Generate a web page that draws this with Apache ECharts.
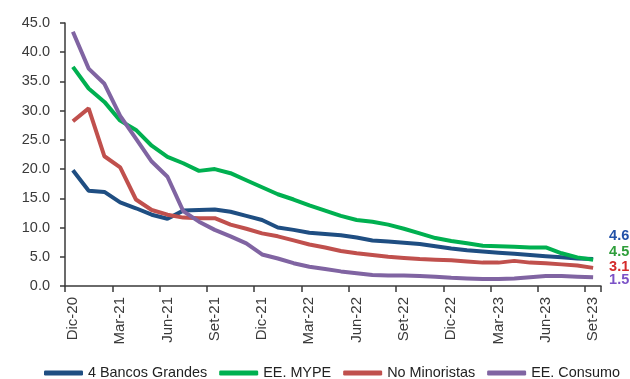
<!DOCTYPE html>
<html>
<head>
<meta charset="utf-8">
<script src="https://cdn.jsdelivr.net/npm/echarts@6/dist/echarts.min.js"></script>
<style>
  html, body { margin: 0; padding: 0; background: #fff; }
  #chart { width: 630px; height: 379px; }
</style>
</head>
<body>
<div id="chart"></div>
<script>
// Monthly ratios, Dic-20 to Set-23
const months = [
  'Dic-20','Ene-21','Feb-21','Mar-21','Abr-21','May-21','Jun-21','Jul-21','Ago-21','Set-21','Oct-21','Nov-21',
  'Dic-21','Ene-22','Feb-22','Mar-22','Abr-22','May-22','Jun-22','Jul-22','Ago-22','Set-22','Oct-22','Nov-22',
  'Dic-22','Ene-23','Feb-23','Mar-23','Abr-23','May-23','Jun-23','Jul-23','Ago-23','Set-23'
];
const bancosGrandes = [19.8, 16.3, 16.1, 14.3, 13.3, 12.2, 11.5, 12.9, 13.0, 13.1, 12.7, 12.0,
  11.3, 10.0, 9.6, 9.1, 8.9, 8.7, 8.3, 7.8, 7.6, 7.4, 7.2, 6.8,
  6.4, 6.1, 5.9, 5.7, 5.5, 5.3, 5.1, 4.9, 4.7, 4.6];
const eeMype = [37.5, 33.8, 31.5, 28.3, 26.7, 24.0, 22.1, 21.0, 19.7, 20.0, 19.3, 18.1,
  16.9, 15.7, 14.8, 13.8, 12.9, 12.0, 11.3, 11.0, 10.5, 9.8, 9.0, 8.2,
  7.7, 7.3, 6.9, 6.8, 6.7, 6.6, 6.6, 5.6, 4.9, 4.5];
const noMinoristas = [28.2, 30.4, 22.2, 20.3, 14.8, 13.0, 12.2, 11.7, 11.6, 11.6, 10.5, 9.8,
  9.0, 8.5, 7.8, 7.1, 6.6, 6.0, 5.6, 5.3, 5.0, 4.8, 4.6, 4.5,
  4.4, 4.2, 4.0, 4.0, 4.3, 4.0, 3.9, 3.7, 3.5, 3.1];
const eeConsumo = [43.5, 37.2, 34.6, 29.1, 25.2, 21.3, 18.7, 12.8, 11.0, 9.6, 8.5, 7.3,
  5.4, 4.7, 3.9, 3.3, 2.9, 2.5, 2.2, 1.9, 1.8, 1.8, 1.7, 1.6,
  1.4, 1.3, 1.2, 1.2, 1.3, 1.5, 1.7, 1.7, 1.6, 1.5];
const seriesNames = ['4 Bancos Grandes', 'EE. MYPE', 'No Minoristas', 'EE. Consumo'];

const FONT = "'Liberation Sans', Arial, sans-serif";
const AXIS_COLOR = '#3a3a3a';

function makeSeries(name, data, lineColor, labelColor, labelDy) {
  return {
    name: name,
    type: 'line',
    data: data,
    symbol: 'none',
    smooth: false,
    lineStyle: { width: 4, color: lineColor },
    itemStyle: { color: lineColor },
    endLabel: {
      show: true,
      formatter: p => Number(p.value).toFixed(1),
      color: labelColor,
      fontFamily: FONT,
      fontWeight: 'bold',
      fontSize: 14.5,
      distance: 16,
      offset: [0, labelDy]
    }
  };
}

const chart = echarts.init(document.getElementById('chart'), null, { renderer: 'canvas' });
chart.setOption({
  animation: false,
  backgroundColor: '#ffffff',
  textStyle: { fontFamily: FONT },
  grid: { left: 65, right: 29, top: 23, bottom: 93, outerBoundsMode: 'none' },
  legend: {
    data: seriesNames,
    left: 44,
    top: 366,
    width: 600,
    padding: 0,
    icon: 'roundRect',
    itemWidth: 39,
    itemHeight: 5,
    itemGap: 12,
    textStyle: { fontFamily: FONT, fontSize: 14.4, color: '#222' }
  },
  xAxis: {
    type: 'category',
    data: months,
    boundaryGap: true,
    axisLine: { lineStyle: { color: AXIS_COLOR, width: 1.5 } },
    axisTick: { show: true, interval: 2, length: 6, lineStyle: { color: AXIS_COLOR, width: 1.5 } },
    axisLabel: {
      interval: 2,
      rotate: 90,
      margin: 11,
      fontFamily: FONT,
      fontSize: 15,
      color: AXIS_COLOR
    },
    splitLine: { show: false }
  },
  yAxis: {
    type: 'value',
    min: 0,
    max: 45,
    interval: 5,
    axisLine: { show: true, lineStyle: { color: AXIS_COLOR, width: 1.5 } },
    axisTick: { show: true, length: 5, lineStyle: { color: AXIS_COLOR, width: 1.5 } },
    axisLabel: {
      margin: 15,
      fontFamily: FONT,
      fontSize: 14.5,
      color: AXIS_COLOR,
      formatter: v => v.toFixed(1)
    },
    splitLine: { show: false }
  },
  series: [
    makeSeries(seriesNames[0], bancosGrandes, '#1F4E82', '#2251A8', -23),
    makeSeries(seriesNames[1], eeMype, '#00B050', '#2E9E3A', -8),
    makeSeries(seriesNames[2], noMinoristas, '#C0504D', '#D42B2B', -1),
    makeSeries(seriesNames[3], eeConsumo, '#8064A2', '#7B52C7', 3)
  ]
});
</script>
</body>
</html>
